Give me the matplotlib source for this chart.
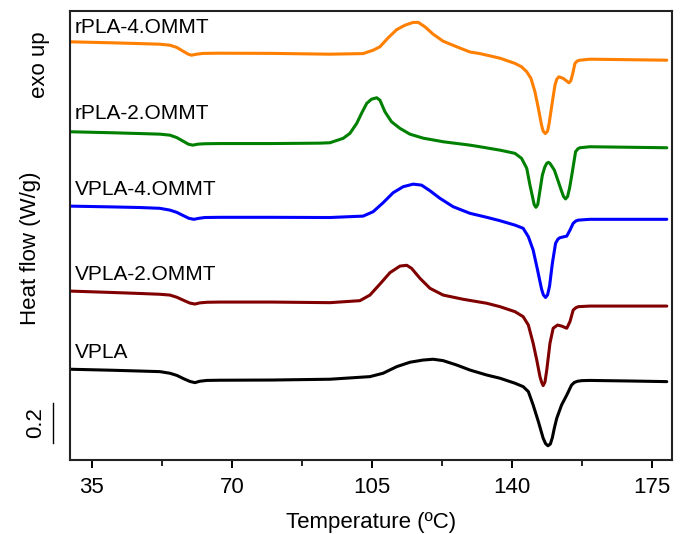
import matplotlib
matplotlib.use("Agg")
import matplotlib.pyplot as plt
import matplotlib.transforms as mtransforms
from matplotlib.ticker import MultipleLocator

plt.rcParams['font.family'] = ['Liberation Sans', 'DejaVu Sans']

# DSC heating curves: temperature (C) and heat flow (W/g, curves stacked with offsets)
t_vpla = [29.5, 40, 47, 52, 54.5, 56.25, 58, 59.5, 60.75, 62, 63.75, 67, 80, 94.5, 104.5, 107.8,
          111.2, 114.5, 117.8, 120.3, 122.8, 126.2, 129.5, 133.7, 137.0, 140.75, 142.8, 144.1,
          145.3, 146.6, 147.8, 148.4, 149.0, 149.6, 150.1, 150.6, 151.2, 152.4, 153.7, 154.9,
          155.6, 156.4, 157.5, 159.5, 170, 178.7]
h_vpla = [0.454, 0.449, 0.445, 0.442, 0.434, 0.423, 0.406, 0.393, 0.387, 0.394, 0.398, 0.399,
          0.400, 0.404, 0.417, 0.434, 0.467, 0.489, 0.500, 0.504, 0.497, 0.475, 0.450, 0.425,
          0.409, 0.384, 0.367, 0.342, 0.275, 0.192, 0.109, 0.082, 0.071, 0.080, 0.112, 0.160,
          0.209, 0.275, 0.325, 0.375, 0.388, 0.394, 0.397, 0.398, 0.395, 0.392]

t_vpla2 = [29.5, 40, 47, 52, 54.5, 56.25, 58, 59.5, 60.75, 62, 63.75, 67, 80, 94.5, 102.0, 104.5,
           107.0, 109.5, 112.0, 113.7, 114.9, 117.0, 119.5, 122.8, 127.8, 133.7, 137.0, 140.75,
           142.8, 144.1, 145.3, 146.2, 147.0, 147.4, 147.8, 148.25, 148.7, 149.5, 150.3, 151.4,
           152.4, 153.7, 154.5, 155.3, 156.0, 156.6, 159.5, 178.7]
h_vpla2 = [0.845, 0.838, 0.833, 0.829, 0.825, 0.814, 0.798, 0.785, 0.780, 0.786, 0.789, 0.790,
           0.790, 0.787, 0.797, 0.825, 0.880, 0.937, 0.970, 0.974, 0.959, 0.909, 0.859, 0.825,
           0.804, 0.784, 0.767, 0.742, 0.717, 0.675, 0.584, 0.500, 0.417, 0.390, 0.372, 0.390,
           0.450, 0.584, 0.659, 0.675, 0.670, 0.659, 0.692, 0.750, 0.762, 0.767, 0.770, 0.770]

t_vpla4 = [29.5, 40, 47, 52, 54.5, 56.2, 57.8, 59.25, 60.5, 61.75, 63.25, 67, 80, 94.5, 102.8,
           105.3, 107.8, 110.3, 112.8, 115.3, 117.4, 119.5, 122.0, 125.3, 129.5, 133.7, 137.0,
           140.75, 142.8, 144.1, 145.3, 146.4, 147.4, 147.85, 148.4, 148.9, 149.4, 150.1, 150.9,
           151.5, 152.0, 153.7, 154.5, 155.3, 156.0, 156.6, 159.5, 178.7]
h_vpla4 = [1.270, 1.266, 1.263, 1.259, 1.250, 1.239, 1.223, 1.209, 1.204, 1.209, 1.213, 1.214,
           1.214, 1.213, 1.220, 1.242, 1.287, 1.337, 1.367, 1.380, 1.375, 1.347, 1.309, 1.267,
           1.234, 1.214, 1.197, 1.175, 1.159, 1.117, 1.050, 0.950, 0.855, 0.826, 0.813, 0.826,
           0.870, 0.984, 1.084, 1.105, 1.112, 1.120, 1.150, 1.184, 1.196, 1.200, 1.204, 1.204]

t_rpla2 = [29.5, 40, 47, 52, 54.5, 56.2, 57.8, 59.1, 60.2, 61.5, 63.25, 67, 80, 92.0, 94.5, 97.8,
           99.5, 101.2, 102.4, 103.7, 104.9, 106.2, 107.0, 108.25, 109.9, 112.0, 114.5, 117.8,
           122.8, 129.5, 132.0, 137.0, 140.75, 142.4, 143.7, 144.5, 145.1, 145.55, 146.0, 146.45,
           146.9, 147.6, 148.2, 148.7, 149.1, 149.5, 150.6, 151.6, 152.4, 152.9, 153.4, 153.9,
           154.4, 155.1, 155.9, 156.5, 157.0, 159.5, 178.7]
h_rpla2 = [1.642, 1.637, 1.633, 1.630, 1.625, 1.613, 1.595, 1.580, 1.575, 1.580, 1.582, 1.583,
           1.583, 1.585, 1.587, 1.609, 1.634, 1.684, 1.734, 1.784, 1.805, 1.812, 1.800, 1.742,
           1.692, 1.659, 1.630, 1.610, 1.592, 1.575, 1.567, 1.550, 1.534, 1.509, 1.459, 1.375,
           1.320, 1.278, 1.264, 1.278, 1.335, 1.425, 1.465, 1.484, 1.489, 1.484, 1.450, 1.392,
           1.345, 1.318, 1.306, 1.318, 1.360, 1.442, 1.542, 1.557, 1.562, 1.567, 1.562]

t_rpla4 = [29.5, 40, 47, 52, 54.5, 56.2, 57.8, 59.1, 59.9, 61.2, 62.8, 67, 80, 94.5, 102.8, 105.3,
           107.0, 109.1, 111.2, 113.25, 115.3, 116.6, 118.25, 120.3, 122.8, 126.2, 129.5, 132.0,
           137.0, 140.75, 142.4, 143.7, 144.75, 145.75, 146.6, 147.4, 147.8, 148.35, 148.9, 149.3,
           150.1, 150.75, 151.2, 151.75, 152.8, 153.6, 154.25, 154.7, 155.1, 155.75, 156.3, 157.0,
           159.5, 178.7]
h_rpla4 = [2.092, 2.087, 2.083, 2.080, 2.075, 2.064, 2.045, 2.030, 2.025, 2.030, 2.034, 2.035,
           2.034, 2.030, 2.033, 2.050, 2.067, 2.113, 2.153, 2.175, 2.189, 2.189, 2.167, 2.130,
           2.095, 2.067, 2.041, 2.033, 2.010, 1.984, 1.967, 1.942, 1.909, 1.842, 1.759, 1.675,
           1.645, 1.633, 1.645, 1.684, 1.792, 1.875, 1.905, 1.917, 1.909, 1.897, 1.887, 1.897,
           1.925, 1.984, 1.996, 2.000, 2.005, 2.000]

names = ['VPLA', 'VPLA-2.OMMT', 'VPLA-4.OMMT', 'rPLA-2.OMMT', 'rPLA-4.OMMT']
colors = ['black', '#800000', '#0000ff', '#008000', '#ff7f00']
label_y = [0.54, 0.93, 1.355, 1.732, 2.165]

fig = plt.figure(figsize=(6.85, 5.34), dpi=100)
ax = fig.add_axes([0.102, 0.1386, 0.879, 0.8404])

series = [(t_vpla, h_vpla), (t_vpla2, h_vpla2), (t_vpla4, h_vpla4),
          (t_rpla2, h_rpla2), (t_rpla4, h_rpla4)]
for (t, h), c in zip(series, colors):
    ax.plot(t, h, color=c, lw=2.2, solid_joinstyle='round', solid_capstyle='round')

for name, y in zip(names, label_y):
    ax.text(30.8, y, name, fontsize=15, va='center', ha='left')

ax.set_xlim(29.5, 180)
ax.set_ylim(0, 2.245)
ax.set_xticks([35, 70, 105, 140, 175])
ax.xaxis.set_minor_locator(MultipleLocator(17.5))
ax.tick_params(axis='x', which='major', direction='out', length=6, width=1.4, labelsize=16, pad=6)
ax.tick_params(axis='x', which='minor', direction='out', length=4, width=1.2)
ax.set_yticks([])
for s in ax.spines.values():
    s.set_linewidth(1.5)
    s.set_color('#222222')

ax.set_xlabel('Temperature (ºC)', fontsize=16, labelpad=10)

# scale bar: 0.2 W/g
trans = mtransforms.blended_transform_factory(ax.transAxes, ax.transData)
ax.plot([-0.028, -0.028], [0.085, 0.285], color='black', lw=1.0, transform=trans, clip_on=False)
ax.text(-0.057, 0.185, '0.2', rotation=90, fontsize=16, ha='center', va='center',
        transform=trans)

fig.text(0.044, 0.535, 'Heat flow (W/g)', rotation=90, fontsize=16, ha='center', va='center')
fig.text(0.058, 0.878, 'exo up', rotation=90, fontsize=16, ha='center', va='center')

fig.savefig('out.png', dpi=100)
